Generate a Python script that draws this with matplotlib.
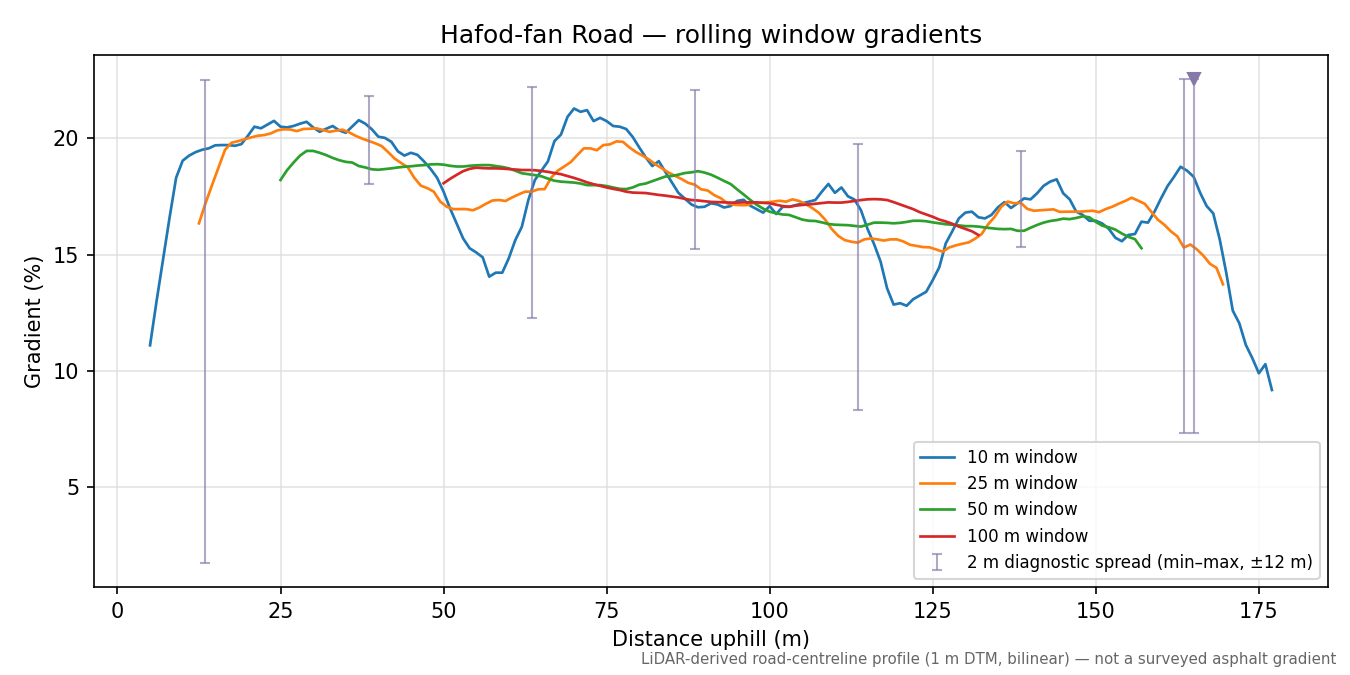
import numpy as np
import matplotlib
matplotlib.use("Agg")
import matplotlib.pyplot as plt

# rolling window gradients (%), sampled every 1 m along the road
grad_10 = [11.1, 13.0, 14.8, 16.6, 18.3, 19.03, 19.25, 19.4, 19.5, 19.56,
           19.69, 19.7, 19.7, 19.67, 19.74, 20.1, 20.49, 20.42, 20.58, 20.74,
           20.49, 20.46, 20.52, 20.62, 20.7, 20.46, 20.27, 20.4, 20.52, 20.33,
           20.23, 20.5, 20.77, 20.62, 20.38, 20.06, 20.01, 19.84, 19.43, 19.25,
           19.37, 19.28, 19.0, 18.68, 18.3, 17.7, 16.98, 16.34, 15.69, 15.27,
           15.09, 14.88, 14.05, 14.22, 14.22, 14.84, 15.62, 16.19, 17.34, 18.2,
           18.6, 19.0, 19.87, 20.15, 20.91, 21.27, 21.13, 21.2, 20.73, 20.87,
           20.73, 20.52, 20.49, 20.39, 20.05, 19.6, 19.17, 18.8, 19.01, 18.55,
           18.1, 17.65, 17.4, 17.15, 17.03, 17.05, 17.2, 17.15, 17.02, 17.08,
           17.3, 17.35, 17.1, 16.95, 16.8, 17.08, 16.74, 17.05, 17.05, 17.12,
           17.2, 17.27, 17.34, 17.7, 18.03, 17.65, 17.88, 17.5, 17.36, 16.9,
           16.1, 15.45, 14.7, 13.55, 12.85, 12.91, 12.8, 13.08, 13.24, 13.4,
           13.9, 14.45, 15.48, 16.0, 16.55, 16.8, 16.84, 16.6, 16.55, 16.7,
           17.03, 17.25, 17.0, 17.2, 17.41, 17.37, 17.63, 17.95, 18.13, 18.23,
           17.63, 17.37, 16.84, 16.7, 16.45, 16.45, 16.33, 16.1, 15.72, 15.57,
           15.84, 15.88, 16.41, 16.37, 16.84, 17.41, 17.94, 18.34, 18.77, 18.6,
           18.34, 17.65, 17.08, 16.77, 15.65, 14.22, 12.59, 12.05, 11.12, 10.55,
           9.9, 10.29, 9.18]
grad_25 = [16.34, 17.2, 17.98, 18.74, 19.5, 19.8, 19.87, 19.95, 20.03, 20.1,
           20.13, 20.2, 20.33, 20.38, 20.37, 20.3, 20.39, 20.4, 20.42, 20.35,
           20.27, 20.32, 20.36, 20.25, 20.1, 19.98, 19.88, 19.78, 19.66, 19.4,
           19.12, 18.93, 18.75, 18.3, 17.96, 17.85, 17.7, 17.27, 17.05, 16.95,
           16.95, 16.95, 16.9, 17.02, 17.18, 17.32, 17.34, 17.3, 17.45, 17.58,
           17.7, 17.7, 17.8, 17.81, 18.3, 18.6, 18.78, 18.97, 19.27, 19.56,
           19.56, 19.48, 19.7, 19.73, 19.86, 19.84, 19.6, 19.4, 19.25, 19.08,
           18.87, 18.7, 18.52, 18.38, 18.24, 18.08, 18.0, 17.8, 17.75, 17.55,
           17.42, 17.2, 17.14, 17.12, 17.12, 17.22, 17.22, 17.24, 17.27, 17.31,
           17.27, 17.37, 17.3, 17.17, 17.0, 16.8, 16.5, 16.1, 15.8, 15.62,
           15.55, 15.51, 15.65, 15.69, 15.65, 15.6, 15.65, 15.65, 15.56, 15.42,
           15.37, 15.32, 15.31, 15.22, 15.12, 15.3, 15.39, 15.46, 15.52, 15.68,
           15.88, 16.3, 16.62, 17.05, 17.27, 17.2, 17.22, 16.96, 16.88, 16.9,
           16.92, 16.94, 16.83, 16.84, 16.84, 16.84, 16.86, 16.88, 16.82, 16.95,
           17.05, 17.18, 17.3, 17.44, 17.31, 17.18, 16.84, 16.5, 16.28, 16.0,
           15.78, 15.3, 15.43, 15.22, 14.95, 14.6, 14.43, 13.72]
grad_50 = [18.2, 18.62, 18.95, 19.25, 19.45, 19.45, 19.37, 19.27, 19.15, 19.05,
           18.98, 18.95, 18.8, 18.74, 18.66, 18.64, 18.67, 18.7, 18.74, 18.77,
           18.79, 18.82, 18.84, 18.87, 18.88, 18.86, 18.81, 18.78, 18.78, 18.81,
           18.83, 18.84, 18.84, 18.8, 18.76, 18.7, 18.6, 18.49, 18.45, 18.41,
           18.36, 18.26, 18.17, 18.13, 18.11, 18.09, 18.05, 17.98, 17.98, 17.98,
           17.94, 17.88, 17.82, 17.81, 17.88, 18.0, 18.05, 18.15, 18.25, 18.35,
           18.37, 18.43, 18.5, 18.53, 18.58, 18.52, 18.43, 18.3, 18.16, 18.03,
           17.8, 17.58, 17.35, 17.14, 16.97, 16.84, 16.77, 16.72, 16.7, 16.6,
           16.5, 16.45, 16.44, 16.38, 16.31, 16.28, 16.27, 16.26, 16.23, 16.2,
           16.28, 16.37, 16.37, 16.36, 16.34, 16.36, 16.4, 16.45, 16.45, 16.43,
           16.38, 16.34, 16.3, 16.28, 16.25, 16.22, 16.22, 16.2, 16.16, 16.13,
           16.1, 16.09, 16.1, 16.02, 16.02, 16.15, 16.27, 16.37, 16.44, 16.48,
           16.54, 16.52, 16.57, 16.64, 16.6, 16.4, 16.24, 16.17, 16.07, 15.9,
           15.76, 15.66, 15.27]
grad_100 = [18.06, 18.25, 18.42, 18.58, 18.68, 18.73, 18.71, 18.7, 18.7, 18.69,
            18.67, 18.65, 18.63, 18.63, 18.62, 18.59, 18.55, 18.5, 18.45, 18.37,
            18.29, 18.2, 18.1, 18.02, 17.95, 17.88, 17.82, 17.77, 17.7, 17.66,
            17.65, 17.64, 17.6, 17.56, 17.53, 17.49, 17.45, 17.39, 17.34, 17.32,
            17.29, 17.26, 17.25, 17.24, 17.23, 17.23, 17.24, 17.24, 17.24, 17.22,
            17.2, 17.14, 17.08, 17.05, 17.1, 17.13, 17.15, 17.18, 17.21, 17.24,
            17.23, 17.23, 17.26, 17.3, 17.34, 17.37, 17.38, 17.37, 17.34, 17.25,
            17.15, 17.05, 16.95, 16.82, 16.72, 16.62, 16.5, 16.42, 16.32, 16.2,
            16.1, 16.0, 15.84]

# each window's centre runs from half a window in from either end
dist_10 = np.arange(5, 5 + len(grad_10))
dist_25 = np.arange(12.5, 12.5 + len(grad_25))
dist_50 = np.arange(25, 25 + len(grad_50))
dist_100 = np.arange(50, 50 + len(grad_100))

# 2 m diagnostic spread (min-max within +-12 m)
spread_x = [13.5, 38.5, 63.5, 88.5, 113.5, 138.5, 163.5, 165.1]
spread_min = [1.76, 18.03, 12.27, 15.24, 8.33, 15.32, 7.34, 7.34]
spread_max = [22.49, 21.80, 22.19, 22.06, 19.74, 19.44, 22.53, 22.53]
steepest_x = 165.1
steepest_val = 22.53

fig, ax = plt.subplots(figsize=(9, 4.5), dpi=150)
fig.subplots_adjust(left=0.0696, right=0.9837, top=0.9185, bottom=0.1304)

ax.plot(dist_10, grad_10, color='tab:blue', lw=1.3, label='10 m window')
ax.plot(dist_25, grad_25, color='tab:orange', lw=1.3, label='25 m window')
ax.plot(dist_50, grad_50, color='tab:green', lw=1.3, label='50 m window')
ax.plot(dist_100, grad_100, color='tab:red', lw=1.3, label='100 m window')

mid = [(lo + hi) / 2 for lo, hi in zip(spread_min, spread_max)]
err = [[m - lo for m, lo in zip(mid, spread_min)],
       [hi - m for m, hi in zip(mid, spread_max)]]
ax.errorbar(spread_x, mid, yerr=err, fmt='none', ecolor='#8878aa', alpha=0.65,
            elinewidth=1.0, capsize=2.5, capthick=1.0,
            label='2 m diagnostic spread (min\u2013max, \u00b112 m)')
ax.plot([steepest_x], [steepest_val], marker='v', ms=6, color='#8878aa',
        ls='none')

ax.grid(True, color='#dddddd', lw=0.8, alpha=0.8)
ax.set_axisbelow(True)
ax.set_xlabel('Distance uphill (m)')
ax.set_ylabel('Gradient (%)')
ax.set_title('Hafod-fan Road \u2014 rolling window gradients')
ax.legend(loc='lower right', fontsize=8)

fig.text(0.99, 0.012,
         'LiDAR-derived road-centreline profile (1 m DTM, bilinear) \u2014 '
         'not a surveyed asphalt gradient',
         ha='right', va='bottom', fontsize=7.2, color='#666666')

fig.savefig('out.png', dpi=150)
